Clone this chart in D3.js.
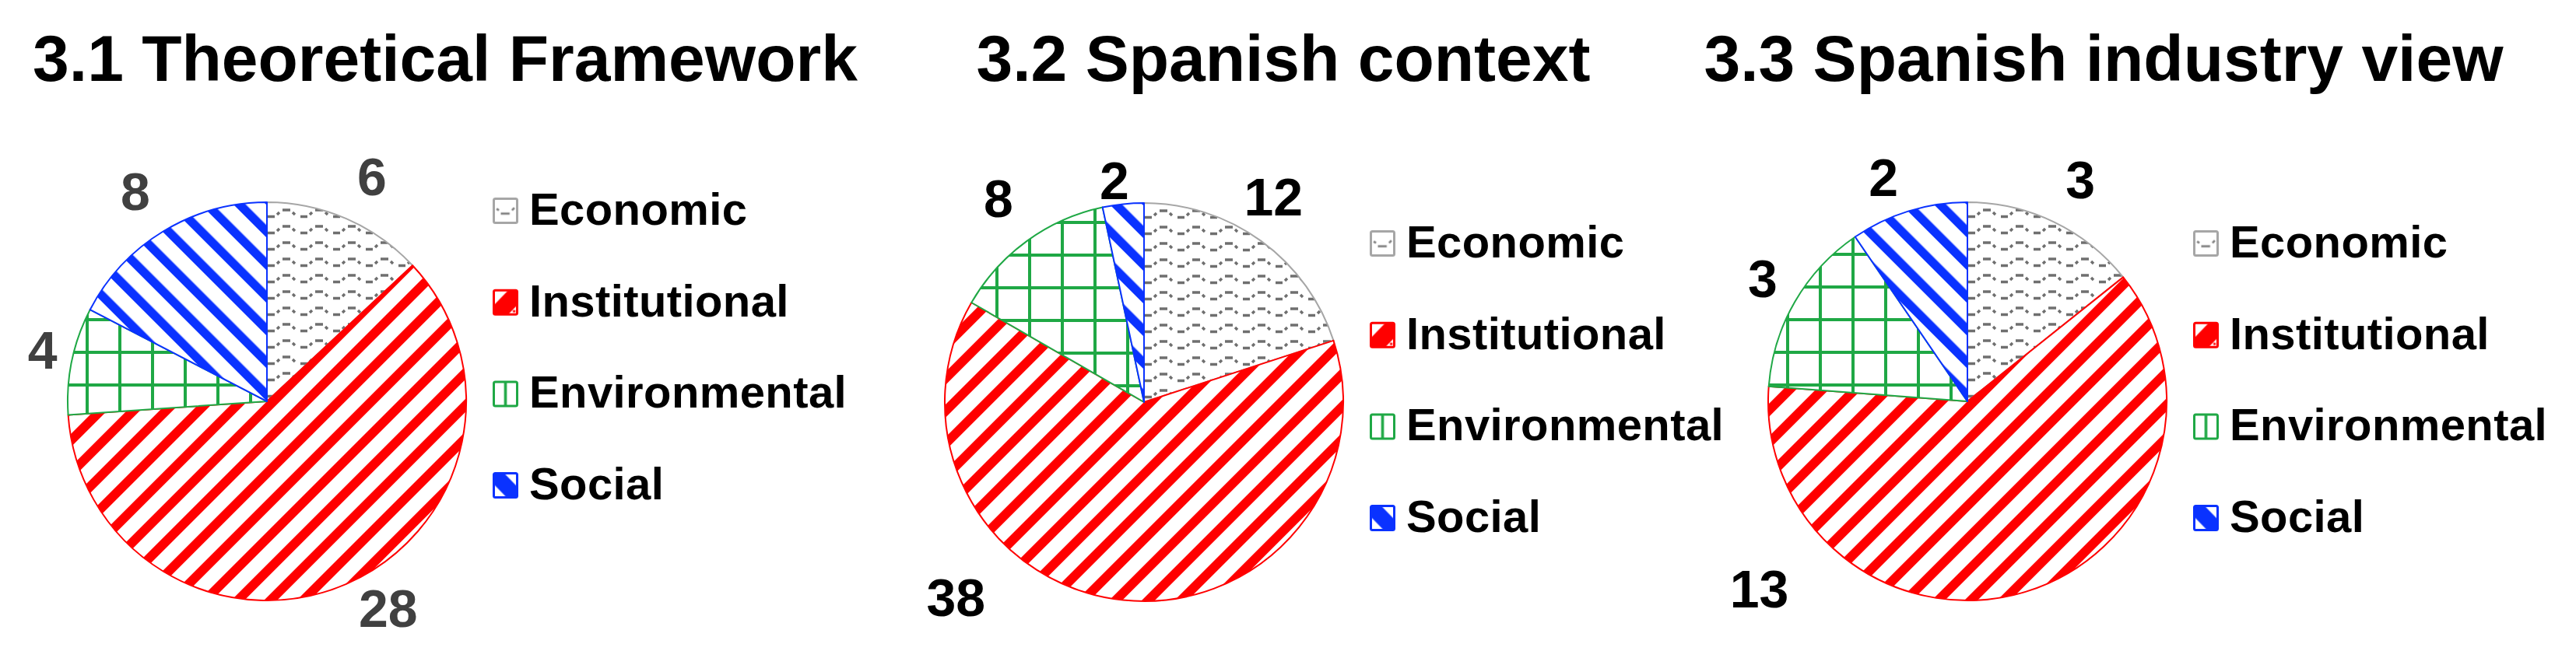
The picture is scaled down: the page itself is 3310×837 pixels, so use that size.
<!DOCTYPE html>
<html>
<head>
<meta charset="utf-8">
<script src="https://cdn.jsdelivr.net/npm/d3@7"></script>
<style>
  html, body { margin: 0; padding: 0; background: #fff; }
  svg { display: block; }
  text { font-family: "Liberation Sans", Arial, sans-serif; font-weight: bold; }
</style>
</head>
<body>
<div id="chart"></div>
<script>
// ---------------- DATA ----------------
const categories = ["Economic", "Institutional", "Environmental", "Social"];
const chartTitles = ["3.1 Theoretical Framework", "3.2 Spanish context", "3.3 Spanish industry view"];
const theoreticalValues = [6, 28, 4, 8];
const contextValues = [12, 38, 8, 2];
const industryValues = [3, 13, 3, 2];

// ---------------- LAYOUT / STYLE ----------------
const W = 3310, H = 837;
const radius = 256;
const pieCenters = [[343, 516], [1470, 517], [2528, 516]];
const titleCenters = [572, 1649, 2703];
const titleBaseline = 104;
const legendTops = [271, 313, 313];
const legendStep = 117.7;
const legendOffsetX = 290;
// label placement per pie: [angle in degrees clockwise from 12 o'clock, distance from centre]
const labelPlacement = [
  [[25, 319], [149.6, 308], [283, 296], [328, 319]],
  [[32.2, 312], [224, 348], [324.5, 322], [352.4, 288]],
  [[27, 320], [228, 360], [301, 307], [339.5, 308]]
];
const labelColors = ["#404040", "#000000", "#000000"];
const seriesStroke = ["#a6a6a6", "#ff0000", "#1fa845", "#0a32ff"];
const patternIds = ["p-econ", "p-inst", "p-env", "p-soc"];
const legendPatternIds = ["l-econ", "l-inst", "l-env", "l-soc"];

const svg = d3.select("#chart").append("svg")
  .attr("width", W).attr("height", H)
  .attr("viewBox", `0 0 ${W} ${H}`);
svg.append("rect").attr("width", W).attr("height", H).attr("fill", "#fff");

const defs = svg.append("defs");

// Economic: gray wave
{
  const p = defs.append("pattern").attr("id", "p-econ").attr("patternUnits", "userSpaceOnUse")
    .attr("width", 42).attr("height", 21);
  p.append("rect").attr("width", 42).attr("height", 21).attr("fill", "#fff");
  p.append("path")
    .attr("d", "M1,14.5 H10 M13,12 L16,9 M20,6 H30 M33,9 L36,12")
    .attr("stroke", "#6f6f6f").attr("stroke-width", 3.4).attr("fill", "none");
}
// Institutional: red wide upward diagonal
{
  const s = 42 / Math.SQRT2;
  const p = defs.append("pattern").attr("id", "p-inst").attr("patternUnits", "userSpaceOnUse")
    .attr("width", s).attr("height", s).attr("patternTransform", "rotate(45)");
  p.append("rect").attr("width", s).attr("height", s).attr("fill", "#fff");
  p.append("rect").attr("width", s * 0.4).attr("height", s).attr("fill", "#ff0000");
}
// Environmental: green large grid
{
  const p = defs.append("pattern").attr("id", "p-env").attr("patternUnits", "userSpaceOnUse")
    .attr("width", 42).attr("height", 42);
  p.append("rect").attr("width", 42).attr("height", 42).attr("fill", "#fff");
  p.append("path").attr("d", "M21,0 V42 M0,21 H42")
    .attr("stroke", "#1fa845").attr("stroke-width", 4).attr("fill", "none");
}
// Social: blue wide downward diagonal
{
  const s = 42 / Math.SQRT2;
  const p = defs.append("pattern").attr("id", "p-soc").attr("patternUnits", "userSpaceOnUse")
    .attr("width", s).attr("height", s).attr("patternTransform", "rotate(-45)");
  p.append("rect").attr("width", s).attr("height", s).attr("fill", "#fff");
  p.append("rect").attr("width", s * 0.38).attr("height", s).attr("fill", "#0a32ff");
}

// Legend key patterns (whole box = one tile)
function legendPattern(id) {
  const p = defs.append("pattern").attr("id", id)
    .attr("patternUnits", "objectBoundingBox").attr("patternContentUnits", "objectBoundingBox")
    .attr("width", 1).attr("height", 1);
  p.append("rect").attr("width", 1).attr("height", 1).attr("fill", "#fff");
  return p;
}
legendPattern("l-econ").append("path")
  .attr("d", "M0.12,0.42 L0.22,0.48 M0.3,0.62 H0.68 M0.78,0.48 L0.88,0.38")
  .attr("stroke", "#7f7f7f").attr("stroke-width", 0.09).attr("fill", "none");
legendPattern("l-inst").append("path")
  .attr("d", "M0,0.62 L0.62,0 L1,0 L1,0.62 L0.62,1 L0,1 Z M0.82,0.82 h0.1 v0.1 h-0.1 Z")
  .attr("fill", "#ff0000");
legendPattern("l-env").append("path")
  .attr("d", "M0.5,0 V1")
  .attr("stroke", "#1fa845").attr("stroke-width", 0.12).attr("fill", "none");
legendPattern("l-soc").append("path")
  .attr("d", "M0,0 L0.45,0 L1,0.55 L1,1 L0.55,1 L0,0.45 Z")
  .attr("fill", "#0a32ff");

const allValues = [theoreticalValues, contextValues, industryValues];

const pie = d3.pie().sort(null).value(d => d.value);
const arc = d3.arc().innerRadius(0).outerRadius(radius);

const labelFont = 68;
const legendFont = 58;

allValues.forEach((vals, i) => {
  const [cx, cy] = pieCenters[i];
  const data = categories.map((c, k) => ({ cat: c, value: vals[k], k }));
  const arcs = pie(data);

  // title
  svg.append("text")
    .attr("x", titleCenters[i]).attr("y", titleBaseline)
    .attr("text-anchor", "middle")
    .attr("font-size", 84).attr("fill", "#000")
    .text(chartTitles[i]);

  const g = svg.append("g").attr("transform", `translate(${cx},${cy})`);
  g.selectAll("path.slice").data(arcs).join("path")
    .attr("class", "slice")
    .attr("d", arc)
    .attr("fill", d => `url(#${patternIds[d.data.k]})`)
    .attr("stroke", d => seriesStroke[d.data.k])
    .attr("stroke-width", 2)
    .attr("stroke-linejoin", "round");

  // data labels
  g.selectAll("text.lbl").data(arcs).join("text")
    .attr("class", "lbl")
    .attr("x", d => {
      const [a, dist] = labelPlacement[i][d.data.k];
      return dist * Math.sin(a * Math.PI / 180);
    })
    .attr("y", d => {
      const [a, dist] = labelPlacement[i][d.data.k];
      return -dist * Math.cos(a * Math.PI / 180) + 0.716 * labelFont / 2;
    })
    .attr("text-anchor", "middle")
    .attr("font-size", labelFont)
    .attr("fill", labelColors[i])
    .text(d => d.data.value);

  // legend
  const lg = svg.append("g");
  const rows = lg.selectAll("g").data(categories).join("g")
    .attr("transform", (d, k) => `translate(${cx + legendOffsetX},${legendTops[i] + k * legendStep})`);
  rows.append("rect")
    .attr("x", 1.5).attr("y", -15.5).attr("width", 30).attr("height", 31)
    .attr("rx", 2)
    .attr("fill", (d, k) => `url(#${legendPatternIds[k]})`)
    .attr("stroke", (d, k) => seriesStroke[k])
    .attr("stroke-width", 3);
  rows.append("text")
    .attr("x", 47).attr("y", 18)
    .attr("font-size", legendFont)
    .attr("letter-spacing", 0.4)
    .attr("fill", "#000")
    .text(d => d);
});
</script>
</body>
</html>
